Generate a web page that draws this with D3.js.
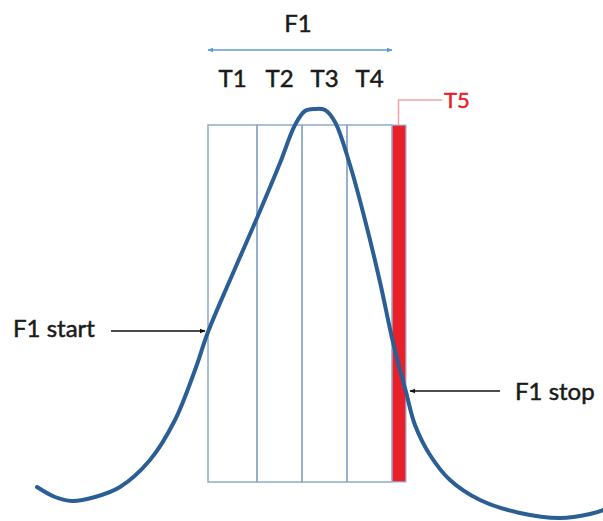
<!DOCTYPE html>
<html><head><meta charset="utf-8">
<script src="https://cdn.jsdelivr.net/npm/d3@7"></script>
<style>body{margin:0;background:#fff}svg{display:block}</style>
</head><body>
<svg id="c" width="603" height="521"></svg>
<script>
// curve (time, signal)
const curveTime   = [37,55,72,95,120,150,175,195,208,230,257,280,295,305,315,325,335,350,365,380,392,400,406,415,430,450,480,520,560,590,603];
const curveSignal = [33,23,19,23,33,60,100,150,188,240,302,357,395,409,411,410,398,355,300,238,182,150,128,95,65,40,20,7,2,6,10];
const windowBounds = [208,257,302,347,392];
const windowLabels = ["T1","T2","T3","T4"];
const t5Bounds = [392,406];
const t5Label = "T5";
const freqLabel = "F1";
const startLabel = "F1 start", stopLabel = "F1 stop";
const startPoint = [205,189], stopPoint = [410,129];

const svg = d3.select("#c");
const x = d3.scaleLinear().domain([0,603]).range([0,603]);
const y = d3.scaleLinear().domain([0,410]).range([520,110]);
const boxTop = 125, boxBot = 482;
const font = "Lato, 'Open Sans', sans-serif";
const txtCol = "#1a1a1a";

const defs = svg.append("defs");
function marker(id,color,size){
  defs.append("marker").attr("id",id).attr("viewBox","0 0 10 10").attr("refX",9).attr("refY",5)
    .attr("markerWidth",size).attr("markerHeight",size).attr("orient","auto-start-reverse")
    .append("path").attr("d","M0,1L10,5L0,9Z").attr("fill",color);
}
marker("ab","#5b9bd5",4);
marker("ak","#111",4);

function label(sel){
  return sel.attr("font-family",font).attr("font-size",24).attr("fill",txtCol)
    .attr("stroke",txtCol).attr("stroke-width",0.5);
}

// windows
const segs = d3.pairs(windowBounds);
svg.selectAll("rect.w").data(segs).join("rect").attr("class","w")
  .attr("x",d=>x(d[0])).attr("y",boxTop).attr("width",d=>x(d[1])-x(d[0])).attr("height",boxBot-boxTop)
  .attr("fill","none").attr("stroke","#8eaacb").attr("stroke-width",1.5);
svg.append("rect").attr("x",x(t5Bounds[0])).attr("y",boxTop).attr("width",x(t5Bounds[1])-x(t5Bounds[0])).attr("height",boxBot-boxTop)
  .attr("fill","#e8202a").attr("stroke","#9cc3e6").attr("stroke-width",1.2);

// curve
const pts = curveTime.map((t,i)=>[x(t),y(curveSignal[i])]);
svg.append("path").attr("d",d3.line().curve(d3.curveCatmullRom.alpha(0.5))(pts))
  .attr("fill","none").attr("stroke","#2a5e95").attr("stroke-width",4).attr("stroke-linecap","round");

// F1 arrow
svg.append("line").attr("x1",x(windowBounds[0])).attr("x2",x(windowBounds[4])).attr("y1",50).attr("y2",50)
  .attr("stroke","#5b9bd5").attr("stroke-width",1.5).attr("marker-start","url(#ab)").attr("marker-end","url(#ab)");
label(svg.append("text")).attr("x",(x(windowBounds[0])+x(windowBounds[4]))/2-2).attr("y",32).attr("text-anchor","middle").text(freqLabel);

label(svg.selectAll("text.t").data(segs).join("text").attr("class","t"))
  .attr("x",(d,i)=>x((d[0]+d[1])/2)).attr("y",87).attr("text-anchor","middle")
  .text((d,i)=>windowLabels[i]);

// T5 callout
const cx = x((t5Bounds[0]+t5Bounds[1])/2)-0.5;
svg.append("path").attr("d",`M${cx},${boxTop}V100H442`).attr("fill","none").attr("stroke","#f4a0a8").attr("stroke-width",1.5);
svg.append("text").attr("x",444).attr("y",108).attr("font-family",font).attr("font-size",22)
  .attr("fill","#e8202a").attr("stroke","#e8202a").attr("stroke-width",0.5).text(t5Label);

// start / stop
svg.append("line").attr("x1",111).attr("x2",x(startPoint[0])).attr("y1",y(startPoint[1])).attr("y2",y(startPoint[1]))
  .attr("stroke","#111").attr("stroke-width",1.5).attr("marker-end","url(#ak)");
label(svg.append("text")).attr("x",13).attr("y",337).text(startLabel);
svg.append("line").attr("x1",500).attr("x2",x(stopPoint[0])).attr("y1",y(stopPoint[1])).attr("y2",y(stopPoint[1]))
  .attr("stroke","#111").attr("stroke-width",1.5).attr("marker-end","url(#ak)");
label(svg.append("text")).attr("x",515).attr("y",400).text(stopLabel);
</script>
</body></html>
